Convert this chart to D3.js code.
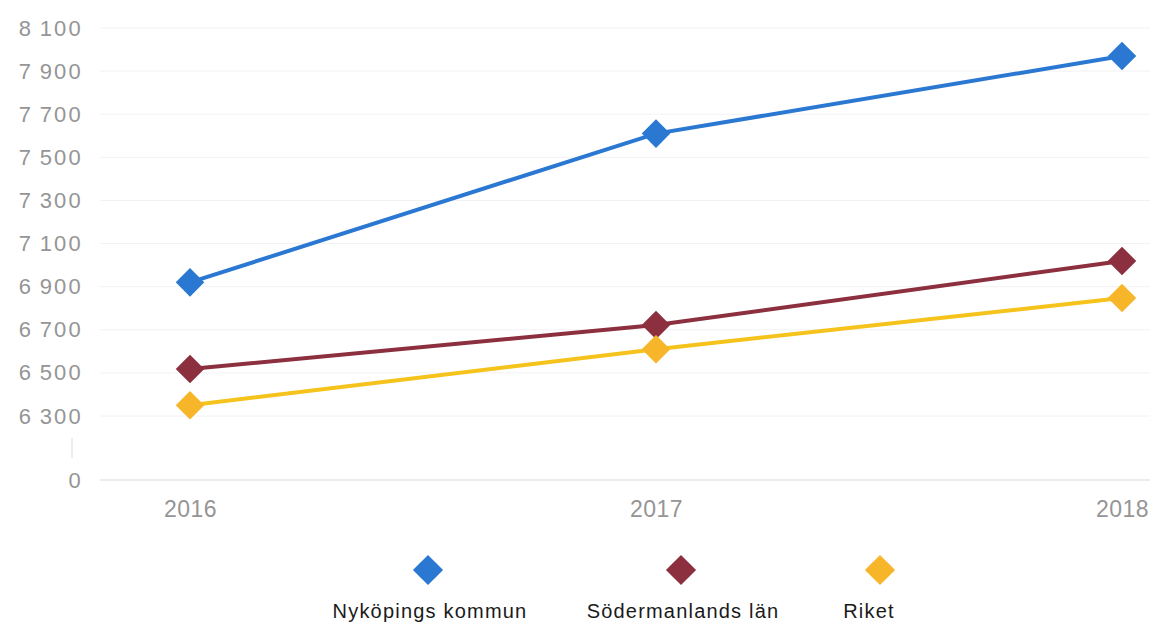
<!DOCTYPE html>
<html>
<head>
<meta charset="utf-8">
<script src="https://cdn.jsdelivr.net/npm/d3@7"></script>
<style>
  body { margin: 0; background: #fff; }
  svg text { font-family: "Liberation Sans", Arial, sans-serif; }
</style>
</head>
<body>
<div id="chart"></div>
<script>
// -------- DATA --------
const years = ["2016", "2017", "2018"];
const seriesNames = ["Nyköpings kommun", "Södermanlands län", "Riket"];
const nykoping = [6920, 7610, 7970];
const sodermanland = [6518, 6722, 7019];
const riket = [6350, 6610, 6847];
const yTicks = [0, 6300, 6500, 6700, 6900, 7100, 7300, 7500, 7700, 7900, 8100];
const colors = ["#2a78d2", "#8c2f3e", "#f6c21c"];
const markerColors = ["#2a78d2", "#8c2f3e", "#f7b52a"];

const seriesValues = [nykoping, sodermanland, riket];

// -------- LAYOUT --------
const width = 1154, height = 626;

const svg = d3.select("#chart").append("svg")
  .attr("width", width)
  .attr("height", height);

const x = d3.scalePoint()
  .domain(years)
  .range([190, 1122]);

// broken axis: 0 sits a bit below 6300
const y = d3.scaleLinear()
  .domain([0, 6300, 8100])
  .range([480, 416, 28]);

// gridlines (very faint)
svg.append("g")
  .selectAll("line")
  .data(yTicks.filter(d => d > 0))
  .join("line")
    .attr("x1", 100).attr("x2", 1150)
    .attr("y1", d => y(d)).attr("y2", d => y(d))
    .attr("stroke", "#f2f2f4")
    .attr("stroke-width", 1);

// baseline at 0
svg.append("line")
  .attr("x1", 100).attr("x2", 1150)
  .attr("y1", y(0)).attr("y2", y(0))
  .attr("stroke", "#e6e6e8")
  .attr("stroke-width", 1.5);

// small break marker between 0 and 6300
svg.append("line")
  .attr("x1", 72).attr("x2", 72)
  .attr("y1", 438).attr("y2", 458)
  .attr("stroke", "#dcdcdc")
  .attr("stroke-width", 1);

// y axis
const yAxisG = svg.append("g")
  .attr("transform", "translate(83,0)")
  .call(d3.axisLeft(y)
    .tickValues(yTicks)
    .tickSize(0)
    .tickPadding(0)
    .tickFormat(d => d3.format(",")(d).replace(",", "\u2009")));
yAxisG.select(".domain").remove();
yAxisG.selectAll(".tick text")
  .attr("fill", "#959595")
  .style("font-size", "22px")
  .style("letter-spacing", "2.2px");

// x axis
const xAxisG = svg.append("g")
  .attr("transform", `translate(0, ${y(0)})`)
  .call(d3.axisBottom(x).tickSize(0).tickPadding(21));
xAxisG.select(".domain").remove();
xAxisG.selectAll(".tick text")
  .attr("fill", "#959595")
  .style("font-size", "23px")
  .style("letter-spacing", "0.5px");

// lines + markers
const line = d3.line()
  .x((d, i) => x(years[i]))
  .y(d => y(d));

const diamond = d3.symbol().type(d3.symbolDiamond2).size(520);
const legendDiamond = d3.symbol().type(d3.symbolDiamond2).size(580);

seriesValues.forEach((vals, s) => {
  svg.append("path")
    .datum(vals)
    .attr("d", line)
    .attr("fill", "none")
    .attr("stroke", colors[s])
    .attr("stroke-width", 4);

  svg.append("g")
    .selectAll("path")
    .data(vals)
    .join("path")
      .attr("transform", (d, i) => `translate(${x(years[i])},${y(d)})`)
      .attr("d", diamond)
      .attr("fill", markerColors[s]);
});

// legend
const legendX = [428, 681, 880];
const legendLabelX = [430, 683, 869];
const legend = svg.append("g");
seriesNames.forEach((name, s) => {
  legend.append("path")
    .attr("transform", `translate(${legendX[s]},570)`)
    .attr("d", legendDiamond)
    .attr("fill", markerColors[s]);
  legend.append("text")
    .attr("x", legendLabelX[s])
    .attr("y", 618)
    .attr("text-anchor", "middle")
    .attr("fill", "#1a1a1a")
    .style("font-size", "20px")
    .style("letter-spacing", "1.2px")
    .text(name);
});
</script>
</body>
</html>
